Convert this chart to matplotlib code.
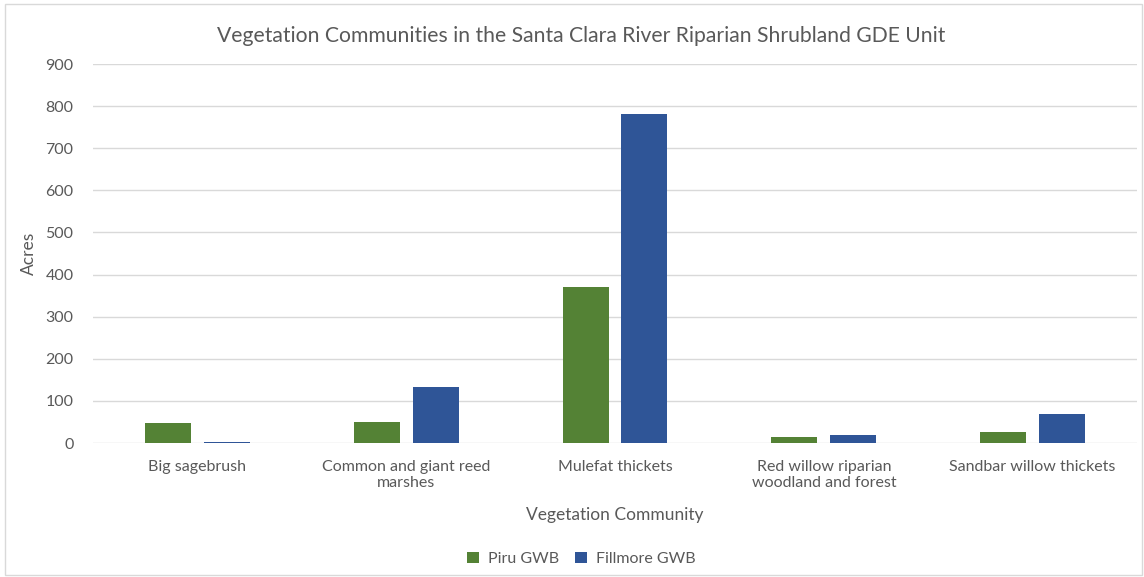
from matplotlib import pyplot as plt
from matplotlib.patches import Rectangle
import numpy as np

# Data
categories = ['Big sagebrush', 'Common and giant reed\nmarshes',
              'Mulefat thickets', 'Red willow riparian\nwoodland and forest',
              'Sandbar willow thickets']
piru = [48, 50, 371, 15, 25]
fillmore = [3, 134, 782, 18, 70]
yticks = [0, 100, 200, 300, 400, 500, 600, 700, 800, 900]

GREEN = '#548235'
BLUE = '#2F5597'
TEXT = '#595959'
GRID = '#D9D9D9'

plt.rcParams['font.family'] = ['Lato', 'DejaVu Sans']

fig = plt.figure(figsize=(11.44, 5.77), dpi=100)
fig.patches.append(Rectangle((0.004, 0.003), 0.994, 0.99, transform=fig.transFigure,
                             fill=False, edgecolor='#D9D9D9', linewidth=1))
ax = fig.add_axes([0.0813, 0.2322, 0.9126, 0.6568])

x = np.arange(len(categories))
w = 0.22
off = 0.141
ax.bar(x - off, piru, w, color=GREEN, label='Piru GWB', zorder=3)
ax.bar(x + off, fillmore, w, color=BLUE, label='Fillmore GWB', zorder=3)

ax.set_xlim(-0.5, len(categories) - 0.5)
ax.set_ylim(0, 900)
ax.set_yticks(yticks)
ax.set_xticks(x)
ax.set_xticklabels(categories)
ax.grid(axis='y', color=GRID, linewidth=1, zorder=0)
for s in ax.spines.values():
    s.set_visible(False)
ax.tick_params(length=0, colors=TEXT, labelsize=11.5)
ax.tick_params(axis='y', pad=14)
ax.tick_params(axis='x', pad=12)

ax.set_ylabel('Acres', color=TEXT, fontsize=12.5, labelpad=6)
ax.set_xlabel('Vegetation Community', color=TEXT, fontsize=12.5, labelpad=12)
fig.suptitle('Vegetation Communities in the Santa Clara River Riparian Shrubland GDE Unit',
             x=0.508, y=0.955, color=TEXT, fontsize=15.2)

ax.legend(loc='center', bbox_to_anchor=(0.468, -0.305), ncol=2, frameon=False,
          fontsize=11.5, labelcolor=TEXT, handlelength=0.7, handleheight=0.7,
          columnspacing=1.0, handletextpad=0.6)

fig.savefig('out.png', dpi=100)
